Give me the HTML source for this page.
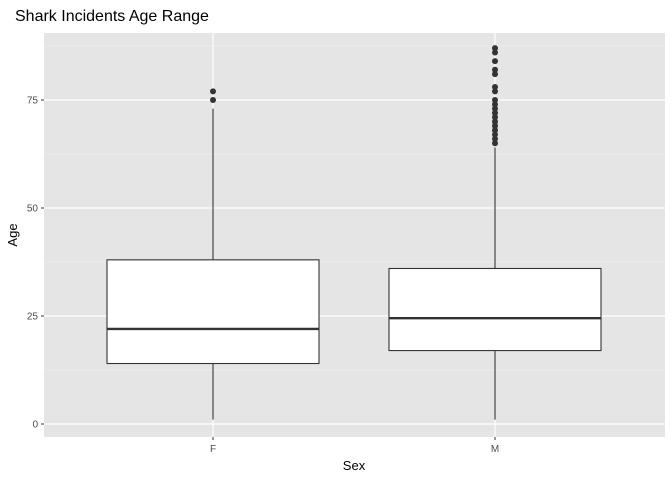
<!DOCTYPE html>
<html><head><meta charset="utf-8"><style>
body{margin:0;background:#fff;font-family:"Liberation Sans",sans-serif}
</style></head><body>
<svg width="672" height="480" id="c" font-family="Liberation Sans, sans-serif">
<text x="15" y="21" font-size="16" fill="#000">Shark Incidents Age Range</text>
<rect x="44" y="33" width="621" height="404" fill="#e5e5e5"/>
<g id="grid"></g><g id="marks"></g><g id="axes"></g>
<text x="354" y="470" font-size="13" text-anchor="middle">Sex</text>
<text transform="translate(17,235) rotate(-90)" font-size="13" text-anchor="middle">Age</text>
</svg>
<script>
const categories=["F","M"];
const lowW=[1,1];
const q1=[14,17];
const med=[22,24.5];
const q3=[38,36];
const highW=[73,64];
const outF=[75,77];
const outM=[65,66,67,68,69,70,71,72,73,74,75,77,78,81,82,84,86,87];
const yTicks=[0,25,50,75];
const NS="http://www.w3.org/2000/svg";
const y=v=>424-4.32*v;
const x=i=>213+282*i;
function mk(t,a,p){const e=document.createElementNS(NS,t);for(const k in a)e.setAttribute(k,a[k]);p.appendChild(e);return e;}
const g=document.getElementById('grid'),m=document.getElementById('marks'),ax=document.getElementById('axes');
for(let v=12.5;v<90;v+=25){const l=mk('line',{x1:44,x2:665,y1:y(v),y2:y(v),stroke:'#f2f2f2','stroke-width':0.6},g);}
yTicks.forEach(v=>{const l=mk('line',{x1:44,x2:665,y1:y(v),y2:y(v),stroke:'#fff','stroke-width':1.2},g);

const t=mk('text',{x:38,y:y(v)+3.5,'font-size':10,'text-anchor':'end',fill:'#4d4d4d'},ax);t.textContent=v;

mk('line',{x1:41,x2:44,y1:y(v),y2:y(v),stroke:'#333'},ax);});
categories.forEach((c,i)=>{const l=mk('line',{x1:x(i),x2:x(i),y1:33,y2:437,stroke:'#fff','stroke-width':1.2},g);

const t=mk('text',{x:x(i),y:452,'font-size':10,'text-anchor':'middle',fill:'#4d4d4d'},ax);t.textContent=c;

mk('line',{x1:x(i),x2:x(i),y1:437,y2:440,stroke:'#333'},ax);
const w=mk('line',{x1:x(i),x2:x(i),y1:y(lowW[i]),y2:y(highW[i]),stroke:'#333','stroke-width':1.1},m);

const b=mk('rect',{x:x(i)-106,width:212,y:y(q3[i]),height:y(q1[i])-y(q3[i]),fill:'#fff',stroke:'#333','stroke-width':1.1},m);

const md=mk('line',{x1:x(i)-106,x2:x(i)+106,y1:y(med[i]),y2:y(med[i]),stroke:'#333','stroke-width':2.4},m);

(i==0?outF:outM).forEach(v=>{const p=mk('circle',{cx:x(i),cy:y(v),r:3,fill:'#333'},m);
});});
</script>
</body></html>
